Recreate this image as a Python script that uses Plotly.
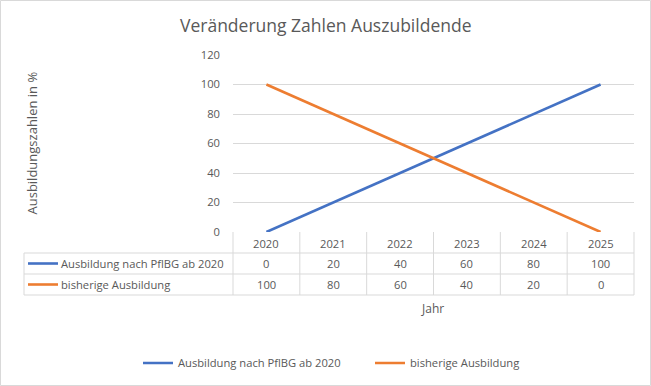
import plotly.graph_objects as go

years = ["2020", "2021", "2022", "2023", "2024", "2025"]
neu = [0, 20, 40, 60, 80, 100]
bisher = [100, 80, 60, 40, 20, 0]
series_names = ["Ausbildung nach PflBG ab 2020", "bisherige Ausbildung"]
colors = ["#4472C4", "#ED7D31"]
title = "Veränderung Zahlen Auszubildende"
y_title = "Ausbildungszahlen in %"
x_title = "Jahr"
y_ticks = [0, 20, 40, 60, 80, 100, 120]

W, H = 651, 386
L, R, T, B = 233, 17, 55, 154
pw, ph = W - L - R, H - T - B
FONT = "Open Sans"
GREY = "#595959"
LINEC = "#d9d9d9"
FS = 11.2

def px(x):
    return (x - L) / pw

def py(y):
    return (T + ph - y) / ph

fig = go.Figure()
legend_ids = ["legend", "legend2"]
for name, vals, c, lg in zip(series_names, [neu, bisher], colors, legend_ids):
    fig.add_trace(go.Scatter(x=years, y=vals, mode="lines", name=name, legend=lg,
                             line=dict(color=c, width=2.6)))

shapes = []
annotations = []
n = len(years)
row_tops = [232, 253, 274, 295]

def txt(text, x, y, size=FS, xanchor="center", **kw):
    annotations.append(dict(text=text, xref="paper", yref="paper", x=x, y=y,
                            xanchor=xanchor, yanchor="middle", showarrow=False,
                            font=dict(size=size, color=GREY, family=FONT), **kw))

# vertical lines of table
for i in range(n + 1):
    shapes.append(dict(type="line", xref="paper", yref="paper",
                       x0=i / n, x1=i / n, y0=py(row_tops[0]), y1=py(row_tops[-1]),
                       line=dict(color=LINEC, width=1)))
shapes.append(dict(type="line", xref="paper", yref="paper",
                   x0=px(24), x1=px(24), y0=py(row_tops[1]), y1=py(row_tops[-1]),
                   line=dict(color=LINEC, width=1)))
for yv in row_tops[1:]:
    shapes.append(dict(type="line", xref="paper", yref="paper",
                       x0=px(24), x1=1, y0=py(yv), y1=py(yv),
                       line=dict(color=LINEC, width=1)))
# header row
for i, yr in enumerate(years):
    txt(yr, (i + 0.5) / n, py((row_tops[0] + row_tops[1]) / 2 + 1))
# data rows
for r, (name, vals, c) in enumerate(zip(series_names, [neu, bisher], colors)):
    yc = (row_tops[r + 1] + row_tops[r + 2]) / 2
    shapes.append(dict(type="line", xref="paper", yref="paper",
                       x0=px(28), x1=px(58), y0=py(yc), y1=py(yc),
                       line=dict(color=c, width=2.6)))
    txt(name, px(59), py(yc), xanchor="left")
    for i, v in enumerate(vals):
        txt(str(v), (i + 0.5) / n, py(yc))

txt(x_title, px(432), py(308), size=12)
txt(y_title, px(31), py(142.5), size=13, textangle=-90)
txt(title, px(325), py(25), size=17.5)
# outer border
shapes.append(dict(type="rect", xref="paper", yref="paper",
                   x0=px(0.5), x1=px(W - 0.5), y0=py(0.5), y1=py(H - 0.5),
                   line=dict(color="#d9d9d9", width=1)))

legend_common = dict(orientation="h", xref="container", yref="container",
                     xanchor="left", y=1 - 363 / H, yanchor="middle",
                     font=dict(size=FS, color=GREY, family=FONT), itemwidth=30,
                     bgcolor="rgba(0,0,0,0)")

fig.update_layout(
    width=W, height=H,
    margin=dict(l=L, r=R, t=T, b=B, autoexpand=False),
    paper_bgcolor="white", plot_bgcolor="white",
    font=dict(family=FONT, color=GREY, size=FS),
    showlegend=True,
    legend=dict(x=138 / W, **legend_common),
    legend2=dict(x=370 / W, **legend_common),
    shapes=shapes, annotations=annotations,
    xaxis=dict(type="category", range=[-0.5, n - 0.5], showticklabels=False,
               showgrid=False, zeroline=False, showline=False, fixedrange=True,
               automargin=False),
    yaxis=dict(range=[0, 120], tickvals=y_ticks, showgrid=True, gridcolor=LINEC,
               gridwidth=1, zeroline=False, showline=False, ticklabelstandoff=12,
               automargin=False,
               tickfont=dict(size=FS, color=GREY, family=FONT)),
)
fig.write_html("out.html", config={"displayModeBar": False},
               post_script="document.body.style.margin='0';document.body.style.overflow='hidden';")
